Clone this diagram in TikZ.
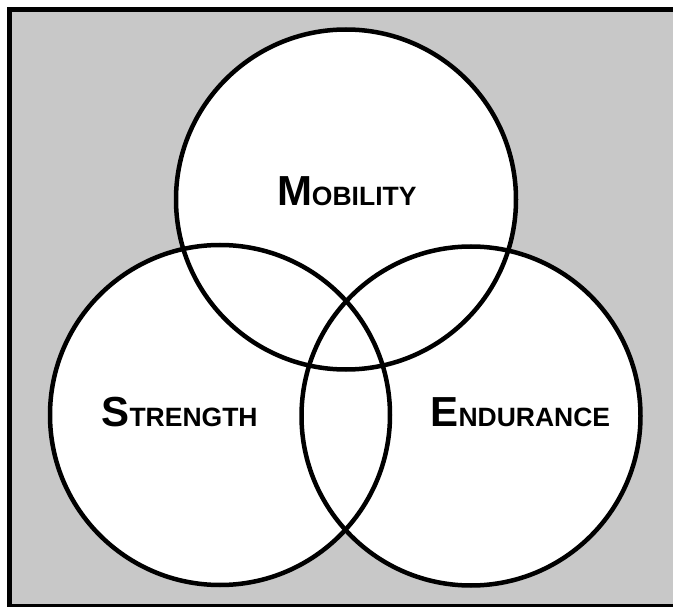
\documentclass[tikz,border=0pt]{standalone}
\usepackage{fontspec}
\setmainfont{Liberation Sans}
\definecolor{bggray}{RGB}{200,200,200}
\tikzset{
  vennring/.style={draw=black, line width=4.5pt},
  bigl/.style={font=\fontsize{42}{42}\selectfont\bfseries},
  lbl/.style={anchor=base west, inner sep=0pt, outer sep=0pt},
}
\newcommand{\smallpart}[1]{{\fontsize{26.5}{26.5}\selectfont\bfseries #1}}
\begin{document}
\begin{tikzpicture}[x=1pt,y=-1pt]
  \useasboundingbox (0,0) rectangle (673,607);
  \clip (0,0) rectangle (673,607);
  \fill[white] (0,0) rectangle (673,607);
  \fill[bggray] (11.7,11.7) rectangle (673,603.5);
  % frame (top, left, bottom strips)
  \fill[black] (6.7,6.7) rectangle (673,11.7);
  \fill[black] (6.7,6.7) rectangle (11.7,607);
  \fill[black] (6.7,603.5) rectangle (673,607);
  % circles
  \fill[white] (346,199.5) circle[radius=170];
  \fill[white] (220,415) circle[radius=170];
  \fill[white] (471,416) circle[radius=169.5];
  \draw[vennring] (346,199.5) circle[radius=170];
  \draw[vennring] (220,415) circle[radius=170];
  \draw[vennring] (471,416) circle[radius=169.5];
  % labels
  \node[lbl, bigl] (mob) at (277,206) {M\smallpart{OBILITY}};
  \node[lbl, bigl] (str) at (101.5,426) {S\smallpart{TRENGTH}};
  \node[lbl, bigl] (end) at (430.5,426) {E\smallpart{NDURANCE}};
\end{tikzpicture}
\end{document}
